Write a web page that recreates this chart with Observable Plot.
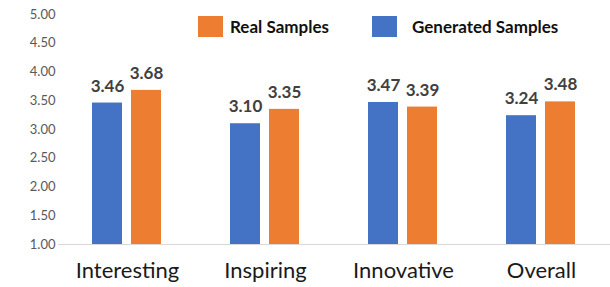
<!DOCTYPE html>
<html>
<head>
<meta charset="utf-8">
<script src="https://cdn.jsdelivr.net/npm/d3@7"></script>
<script src="https://cdn.jsdelivr.net/npm/@observablehq/plot@0.6"></script>
<style>
  html, body { margin: 0; padding: 0; background: #fff; }
  #wrap { position: relative; width: 610px; height: 287px; font-family: Lato, sans-serif; }
  .sw { position: absolute; width: 25px; height: 21px; top: 16px; }
  .lt { position: absolute; top: 16px; height: 21px; line-height: 21px; font-size: 17px; font-weight: bold; color: #111; white-space: nowrap; }
</style>
</head>
<body>
<div id="wrap"></div>
<script>
const categories = ["Interesting", "Inspiring", "Innovative", "Overall"];
const seriesNames = ["Generated Samples", "Real Samples"];
const generated = [3.46, 3.10, 3.47, 3.24];
const real = [3.68, 3.35, 3.39, 3.48];
const yTicks = [1.0, 1.5, 2.0, 2.5, 3.0, 3.5, 4.0, 4.5, 5.0];
const colors = ["#4472C4", "#ED7D31"];

const data = categories.flatMap((c, i) => [
  {category: c, series: seriesNames[0], value: generated[i]},
  {category: c, series: seriesNames[1], value: real[i]}
]);

const chart = Plot.plot({
  width: 610,
  height: 287,
  marginTop: 14,
  marginBottom: 43,
  marginLeft: 58,
  marginRight: 0,
  style: {fontFamily: "Lato, sans-serif", background: "white"},
  fx: {domain: categories, padding: 0, label: null, axis: null},
  x: {domain: seriesNames, paddingInner: 0.225, paddingOuter: 0.85, axis: null},
  y: {domain: [1, 5], axis: null},
  color: {domain: seriesNames, range: colors},
  marks: [
    Plot.axisY({ticks: yTicks, tickFormat: d => d.toFixed(2), tickSize: 0, tickPadding: 3, fontSize: 13, fill: "#595959", label: null}),
    Plot.axisFx({anchor: "bottom", tickSize: 0, tickPadding: 18, fontSize: 22, label: null, fill: "#1a1a1a"}),
    Plot.ruleY([1], {stroke: "#d9d9d9", strokeWidth: 1}),
    Plot.barY(data, {fx: "category", x: "series", y1: 1, y2: "value", fill: "series"}),
    Plot.text(data, {fx: "category", x: "series", y: "value", text: d => d.value.toFixed(2), dy: -17, fontSize: 17, fontWeight: "bold", fill: "#404040"})
  ]
});

const wrap = document.getElementById("wrap");
wrap.appendChild(chart);

const legendItems = [
  {label: seriesNames[1], color: colors[1], sw: 198, tx: 230},
  {label: seriesNames[0], color: colors[0], sw: 372, tx: 412}
];
for (const it of legendItems) {
  const s = document.createElement("div");
  s.className = "sw";
  s.style.left = it.sw + "px";
  s.style.background = it.color;
  wrap.appendChild(s);
  const t = document.createElement("div");
  t.className = "lt";
  t.style.left = it.tx + "px";
  t.textContent = it.label;
  wrap.appendChild(t);
}
chart.style.position = "absolute";
chart.style.left = "0";
chart.style.top = "0";
</script>
</body>
</html>
